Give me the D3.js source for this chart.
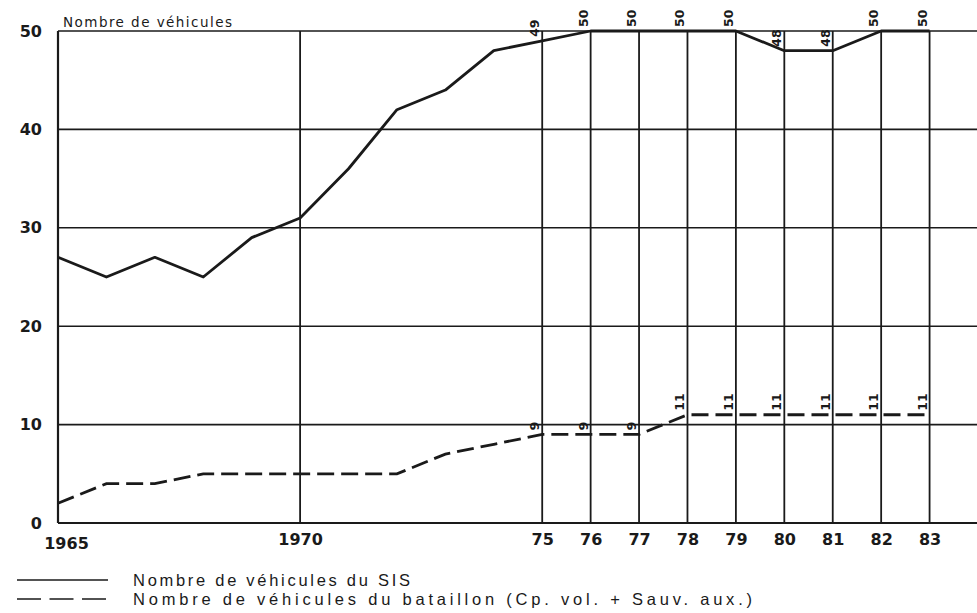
<!DOCTYPE html>
<html>
<head>
<meta charset="utf-8">
<script src="https://cdn.jsdelivr.net/npm/d3@7"></script>
<style>
  body { margin: 0; background: #fff; }
  svg { display: block; }
</style>
</head>
<body>
<svg id="chart" width="977" height="613"></svg>
<script>
// years on the x axis
var years = [1965, 1966, 1967, 1968, 1969, 1970, 1971, 1972, 1973, 1974,
  1975, 1976, 1977, 1978, 1979, 1980, 1981, 1982, 1983];
// Nombre de véhicules du SIS
var sis = [27, 25, 27, 25, 29, 31, 36, 42, 44, 48, 49, 50, 50, 50, 50, 48, 48, 50, 50];
// Nombre de véhicules du bataillon
var bataillon = [2, 4, 4, 5, 5, 5, 5, 5, 7, 8, 9, 9, 9, 11, 11, 11, 11, 11, 11];

var yTicks = [0, 10, 20, 30, 40, 50];
var xTicks = [1965, 1970, 1975, 1976, 1977, 1978, 1979, 1980, 1981, 1982, 1983];
var xTickLabels = ['1965', '1970', '75', '76', '77', '78', '79', '80', '81', '82', '83'];
var labelledYears = [1975, 1976, 1977, 1978, 1979, 1980, 1981, 1982, 1983];

var svg = d3.select('#chart');
var ink = '#1a1a1a';

var x = d3.scaleLinear().domain([1965, 1984]).range([58, 978]);
var y = d3.scaleLinear().domain([0, 50]).range([523, 31]);

// horizontal grid
svg.append('g')
  .selectAll('line')
  .data(yTicks)
  .enter()
  .append('line')
  .attr('x1', x(1965))
  .attr('x2', 977)
  .attr('y1', function(d) { return y(d); })
  .attr('y2', function(d) { return y(d); })
  .attr('stroke', ink)
  .attr('stroke-width', function(d) { return d === 0 ? 2.2 : 1.6; });

// vertical lines
svg.append('g')
  .selectAll('line')
  .data(xTicks)
  .enter()
  .append('line')
  .attr('x1', function(d) { return x(d); })
  .attr('x2', function(d) { return x(d); })
  .attr('y1', y(0))
  .attr('y2', y(50))
  .attr('stroke', ink)
  .attr('stroke-width', function(d) { return d === 1965 ? 2.2 : 1.8; });

// y axis labels
var yAxis = svg.append('g')
  .attr('transform', 'translate(' + x(1965) + ',0)')
  .call(d3.axisLeft(y).tickValues(yTicks).tickSize(0).tickPadding(16));
yAxis.select('.domain').remove();
yAxis.selectAll('text')
  .attr('fill', ink)
  .style('font-family', 'DejaVu Sans')
  .style('font-weight', 'bold')
  .style('font-size', '16px');

// x axis labels
var xAxis = svg.append('g')
  .attr('transform', 'translate(0,' + y(0) + ')')
  .call(d3.axisBottom(x).tickValues(xTicks).tickSize(0).tickPadding(11)
    .tickFormat(function(d, i) { return xTickLabels[i]; }));
xAxis.select('.domain').remove();
xAxis.selectAll('text')
  .attr('fill', ink)
  .attr('dx', function(d) { return d === 1965 ? 8 : 0; })
  .attr('y', function(d) { return d === 1965 ? 15 : 11; })
  .style('font-family', 'DejaVu Sans')
  .style('font-weight', 'bold')
  .style('font-size', '16px');

// title
svg.append('text')
  .attr('x', 63)
  .attr('y', 27)
  .attr('fill', ink)
  .attr('textLength', 169)
  .attr('lengthAdjust', 'spacing')
  .style('font-family', 'DejaVu Sans')
  .style('font-size', '13.5px')
  .text('Nombre de véhicules');

var line = d3.line()
  .x(function(d, i) { return x(years[i]); })
  .y(function(d) { return y(d); });

svg.append('path')
  .datum(sis)
  .attr('d', line)
  .attr('fill', 'none')
  .attr('stroke', ink)
  .attr('stroke-width', 2.8)
  .attr('stroke-linejoin', 'round');

svg.append('path')
  .datum(bataillon)
  .attr('d', line)
  .attr('fill', 'none')
  .attr('stroke', ink)
  .attr('stroke-width', 2.8)
  .attr('stroke-dasharray', '17,7');

// rotated value labels
function valueLabels(values) {
  svg.append('g')
    .selectAll('text')
    .data(labelledYears)
    .enter()
    .append('text')
    .attr('transform', function(d) {
      var v = values[years.indexOf(d)];
      return 'translate(' + (x(d) - 3) + ',' + (y(v) - 4) + ')rotate(-90)';
    })
    .attr('fill', ink)
    .style('font-family', 'DejaVu Sans')
    .style('font-weight', 'bold')
    .style('font-size', '12.5px')
    .text(function(d) { return values[years.indexOf(d)]; });
}
valueLabels(sis);
valueLabels(bataillon);

// legend
svg.append('line')
  .attr('x1', 17).attr('x2', 108)
  .attr('y1', 580).attr('y2', 580)
  .attr('stroke', ink).attr('stroke-width', 1.6);
svg.append('line')
  .attr('x1', 17).attr('x2', 108)
  .attr('y1', 599).attr('y2', 599)
  .attr('stroke', ink).attr('stroke-width', 1.6)
  .attr('stroke-dasharray', '24,8.5');

svg.append('text')
  .attr('x', 133).attr('y', 586)
  .attr('fill', ink)
  .attr('textLength', 277)
  .attr('lengthAdjust', 'spacing')
  .style('font-family', 'Liberation Sans')
  .style('font-size', '16.5px')
  .text('Nombre de véhicules du SIS');
svg.append('text')
  .attr('x', 133).attr('y', 605)
  .attr('fill', ink)
  .attr('textLength', 619)
  .attr('lengthAdjust', 'spacing')
  .style('font-family', 'Liberation Sans')
  .style('font-size', '16.5px')
  .text('Nombre de véhicules du bataillon (Cp. vol. + Sauv. aux.)');
</script>
</body>
</html>
